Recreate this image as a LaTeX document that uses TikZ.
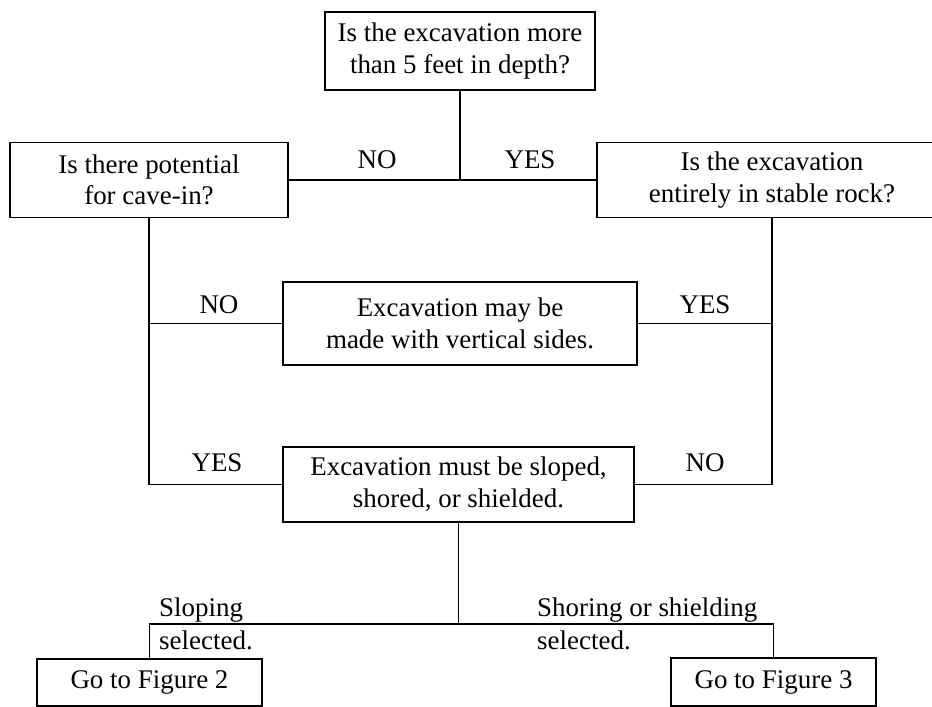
\documentclass[tikz,border=0pt]{standalone}
\usepackage{fontspec}
\setmainfont{Liberation Serif}

\begin{document}
\begin{tikzpicture}[
    x=0.03cm, y=-0.03cm,
    every node/.style={font=\fontsize{23}{27}\selectfont},
    box/.style={
        draw,
        line width=1.6pt,
        align=center,
        inner sep=2pt
    },
    answer/.style={inner sep=0pt},
    tag/.style={inner sep=0pt, align=left, anchor=west,
        font=\fontsize{23}{28}\selectfont},
    link/.style={line width=1.3pt}
  ]
  \clip (0,0) rectangle (932,706);

  % Question boxes
  \node[box, minimum width=8.1cm, minimum height=2.34cm] (depth) at (460,51)
      {Is the excavation more\\than 5 feet in depth?};
  \node[box, minimum width=8.34cm, minimum height=2.25cm] (cavein) at (149,180)
      {Is there potential\\for cave-in?};
  \node[box, minimum width=10.5cm, minimum height=2.25cm] (rock) at (772,180)
      {Is the excavation\\entirely in stable rock?};

  % Outcome boxes
  \node[box, minimum width=10.62cm, minimum height=2.49cm] (vsides) at (460,323.5)
      {Excavation may be\\made with vertical sides.};
  \node[box, minimum width=10.53cm, minimum height=2.25cm] (sloped) at (458.5,484.5)
      {Excavation must be sloped,\\shored, or shielded.};

  % Next figures
  \node[box, minimum width=6.75cm, minimum height=1.41cm] (fig2) at (149.5,682.5)
      {Go to Figure 2};
  \node[box, minimum width=6.15cm, minimum height=1.44cm] (fig3) at (773.5,682)
      {Go to Figure 3};

  \coordinate (split) at (462,624);

  % Connectors
  \draw[link] (depth.south) |- (cavein.east);
  \draw[link] (depth.south) |- (rock.west);

  \draw[link] (cavein.south) |- (vsides.west);
  \draw[link] (cavein.south) |- (sloped.west);
  \draw[link] (rock.south) |- (vsides.east);
  \draw[link] (rock.south) |- (sloped.east);

  \draw[link] (sloped.south) -- (sloped.south |- split) -| (fig2.north);
  \draw[link] (sloped.south |- split) -| (fig3.north);

  % Answers
  \node[answer] (noa)  at (377,160) {NO};
  \node[answer] (yesa) at (530,160) {YES};
  \node[answer] (nob)  at (219,305) {NO};
  \node[answer] (yesb) at (705,305) {YES};
  \node[answer] (yesc) at (217,463) {YES};
  \node[answer] (noc)  at (705,463) {NO};

  \node[tag] (slopesel) at (159,623.5) {Sloping\\selected.};
  \node[tag] (shoresel) at (537,623.5) {Shoring or shielding\\selected.};

\end{tikzpicture}
\end{document}
